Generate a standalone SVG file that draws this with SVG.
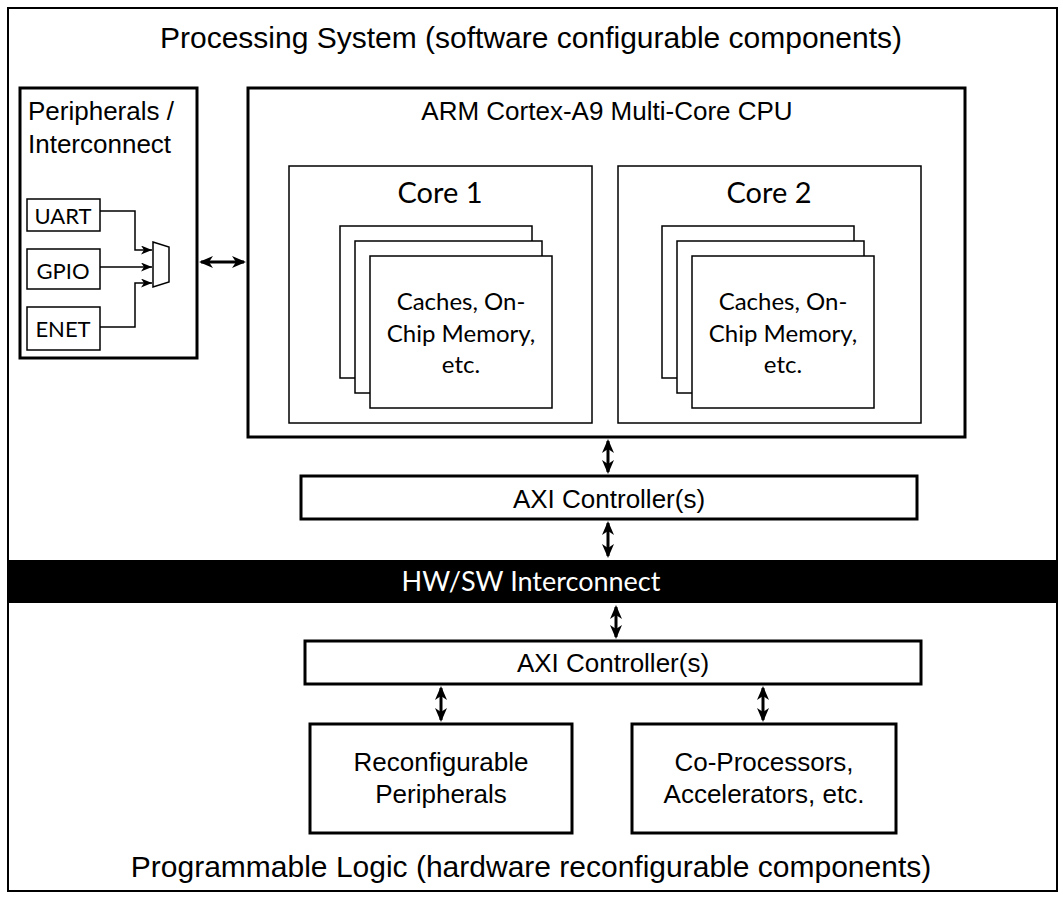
<svg xmlns="http://www.w3.org/2000/svg" width="1063" height="899" viewBox="0 0 1063 899">
<style>
.ar{font-family:"Liberation Sans",Arial,sans-serif;fill:#000}
.ca{font-family:Lato,"Open Sans",sans-serif;fill:#000}
.thick{fill:#fff;stroke:#000;stroke-width:3}
.thin{fill:#fff;stroke:#000;stroke-width:1.5}
.wire{fill:none;stroke:#000;stroke-width:1.5}
.big{fill:none;stroke:#000;stroke-width:3;marker-start:url(#bh);marker-end:url(#bh)}
</style>
<defs>
<marker id="bh" markerUnits="userSpaceOnUse" markerWidth="14" markerHeight="12" viewBox="0 0 14 12" refX="12" refY="6" orient="auto-start-reverse">
<path d="M0,0 L14,6 L0,12 L4,6 z" fill="#000"/>
</marker>
<marker id="sh" markerUnits="userSpaceOnUse" markerWidth="11" markerHeight="9" viewBox="0 0 11 9" refX="11" refY="4.5" orient="auto">
<path d="M0,0 L11,4.5 L0,9 L3,4.5 z" fill="#000"/>
</marker>
</defs>
<rect x="0" y="0" width="1063" height="899" fill="#fff"/>
<g id="outer">
<rect x="8" y="8" width="1049" height="883" fill="#fff" stroke="#000" stroke-width="2"/>
<text class="ar" x="531" y="48" font-size="30" text-anchor="middle">Processing System (software configurable components)</text>
<text class="ar" x="531" y="877" font-size="30" text-anchor="middle">Programmable Logic (hardware reconfigurable components)</text>
</g>
<g id="hwsw">
<rect x="7" y="560" width="1051" height="43" fill="#000"/>
<text class="ca" x="531" y="591" font-size="27" text-anchor="middle" fill="#fff" style="fill:#fff">HW/SW Interconnect</text>
</g>
<g id="peripherals">
<rect class="thick" x="20" y="88" width="177" height="270"/>
<text class="ar" x="28" y="120" font-size="26">Peripherals /</text>
<text class="ar" x="28" y="153" font-size="26">Interconnect</text>
</g>
<g id="uart">
<rect class="thin" x="27" y="199" width="73" height="32"/>
<text class="ca" x="63" y="224" font-size="22" text-anchor="middle">UART</text>
</g>
<g id="gpio">
<rect class="thin" x="27" y="249" width="73" height="40"/>
<text class="ca" x="63" y="279" font-size="22" text-anchor="middle">GPIO</text>
</g>
<g id="enet">
<rect class="thin" x="27" y="307" width="73" height="43"/>
<text class="ca" x="63" y="337" font-size="22" text-anchor="middle">ENET</text>
</g>
<g id="mux">
<polygon class="thin" points="153,242 169,247 169,282 153,287"/>
</g>
<g id="cpu">
<rect class="thick" x="248" y="88" width="717" height="349"/>
<text class="ar" x="607" y="120" font-size="26" text-anchor="middle">ARM Cortex-A9 Multi-Core CPU</text>
</g>
<g id="core1">
<rect class="thin" x="289" y="166" width="303" height="257"/>
<text class="ca" x="440" y="203" font-size="29" text-anchor="middle">Core 1</text>
<rect class="thin" x="340" y="226" width="192" height="152"/>
<rect class="thin" x="355" y="241" width="187" height="152"/>
<rect class="thin" x="370" y="256" width="182" height="152"/>
<text class="ca" font-size="24" text-anchor="middle"><tspan x="461" y="310">Caches, On-</tspan><tspan x="461" y="342">Chip Memory,</tspan><tspan x="461" y="373">etc.</tspan></text>
</g>
<g id="core2">
<rect class="thin" x="618" y="166" width="303" height="257"/>
<text class="ca" x="769" y="203" font-size="29" text-anchor="middle">Core 2</text>
<rect class="thin" x="662" y="226" width="192" height="152"/>
<rect class="thin" x="677" y="241" width="187" height="152"/>
<rect class="thin" x="692" y="256" width="182" height="152"/>
<text class="ca" font-size="24" text-anchor="middle"><tspan x="783" y="310">Caches, On-</tspan><tspan x="783" y="342">Chip Memory,</tspan><tspan x="783" y="373">etc.</tspan></text>
</g>
<g id="axi-ps">
<rect class="thick" x="301" y="476" width="616" height="43"/>
<text class="ar" x="609" y="508" font-size="26" text-anchor="middle">AXI Controller(s)</text>
</g>
<g id="axi-pl">
<rect class="thick" x="305" y="641" width="616" height="43"/>
<text class="ar" x="613" y="672" font-size="26" text-anchor="middle">AXI Controller(s)</text>
</g>
<g id="reconfig">
<rect class="thick" x="310" y="724" width="262" height="109"/>
<text class="ar" font-size="26" text-anchor="middle"><tspan x="441" y="771">Reconfigurable</tspan><tspan x="441" y="803">Peripherals</tspan></text>
</g>
<g id="coproc">
<rect class="thick" x="632" y="724" width="264" height="109"/>
<text class="ar" font-size="26" text-anchor="middle"><tspan x="764" y="771">Co-Processors,</tspan><tspan x="764" y="803">Accelerators, etc.</tspan></text>
</g>
<g id="connectors">
<path class="wire" d="M100,211 H135 V250 H152" marker-end="url(#sh)"/>
<path class="wire" d="M100,267 H152" marker-end="url(#sh)"/>
<path class="wire" d="M100,327 H135 V283 H152" marker-end="url(#sh)"/>
<path class="big" d="M201,262 H244"/>
<path class="big" d="M608,441 V472"/>
<path class="big" d="M608,523 V556"/>
<path class="big" d="M616,607 V637"/>
<path class="big" d="M441,688 V720"/>
<path class="big" d="M763,688 V720"/>
</g>
</svg>
